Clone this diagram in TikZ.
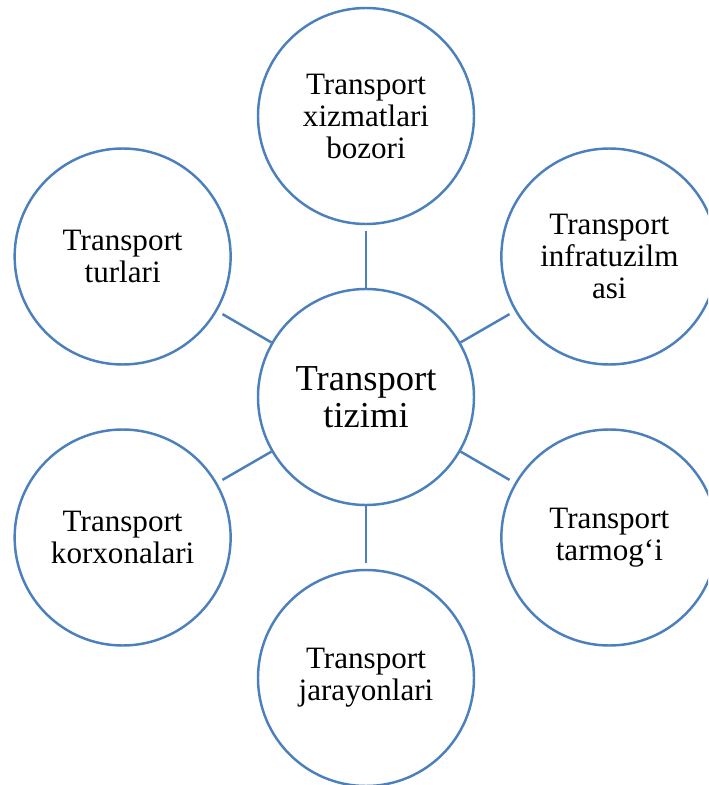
\documentclass[tikz,border=0pt]{standalone}
\usepackage{fontspec}
\setmainfont{Liberation Serif}
\usepackage{tikz}
\usetikzlibrary{positioning}
\definecolor{circleblue}{RGB}{76,128,189}

\begin{document}
\begin{tikzpicture}[
        topic/.style={
            circle,
            draw=circleblue,
            line width=1.4pt,
            fill=white,
            minimum size=4.32cm,
            inner sep=0pt,
            align=center,
            font=\fontsize{17.7pt}{18.2pt}\selectfont
        },
        hub/.style={
            topic,
            font=\fontsize{20.8pt}{20.9pt}\selectfont
        },
        link/.style={draw=circleblue, line width=1.4pt, shorten >=0.12cm}
    ]
        \useasboundingbox (-7.32,-7.76) rectangle (6.84,7.94);
        \clip (-7.32,-7.76) rectangle (6.84,7.94);

        % Hub Node
        \node[hub] (tizimi) at (0,0) {Transport\\tizimi};

        % Topic Nodes
        \node[topic] (bozori) at (90:5.62) {Transport\\xizmatlari\\bozori};
        \node[topic] (infra) at (30:5.62) {Transport\\infratuzilm\\asi};
        \node[topic] (tarmog) at (-30:5.62) {Transport\\tarmog‘i};
        \node[topic] (jarayon) at (-90:5.62) {Transport\\jarayonlari};
        \node[topic] (korxona) at (-150:5.62) {Transport\\korxonalari};
        \node[topic] (turlari) at (150:5.62) {Transport\\turlari};

        % Spoke lines
        \draw[link] (tizimi) -- (bozori);
        \draw[link] (tizimi) -- (infra);
        \draw[link] (tizimi) -- (tarmog);
        \draw[link] (tizimi) -- (jarayon);
        \draw[link] (tizimi) -- (korxona);
        \draw[link] (tizimi) -- (turlari);

    \end{tikzpicture}
\end{document}
